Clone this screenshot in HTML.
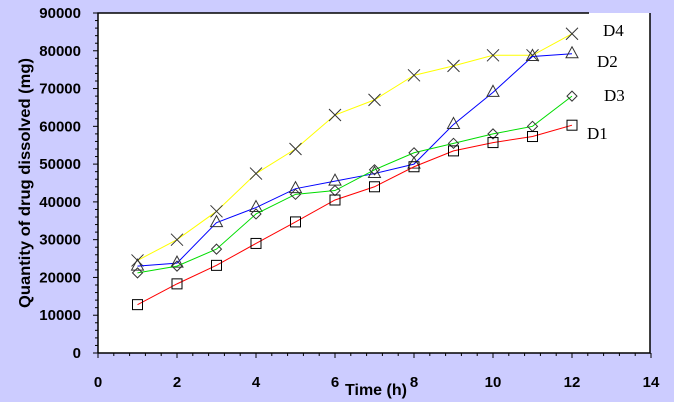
<!DOCTYPE html>
<html><head><meta charset="utf-8"><style>
body{margin:0;background:#ccccff;}
svg{display:block;font-family:"Liberation Sans",Arial,sans-serif;}
</style></head><body>
<svg id="chart" width="674" height="402">
<rect x="0" y="0" width="674" height="402" fill="#ccccff"/>
<rect x="98" y="13" width="552" height="340" fill="#fff"/>
<g id="axes"></g>
<g id="series"></g>
<text x="30" y="183" transform="rotate(-90 30 183)" text-anchor="middle" font-weight="bold" font-size="16" textLength="250" lengthAdjust="spacingAndGlyphs">Quantity of drug dissolved (mg)</text>
<text x="376" y="395" text-anchor="middle" font-weight="bold" font-size="16" textLength="62" lengthAdjust="spacingAndGlyphs">Time (h)</text>
</svg>
<script>
const times=[1,2,3,4,5,6,7,8,9,10,11,12];
const d4=[24500,30000,37500,47500,54000,63000,67000,73500,76000,78800,78800,84500];
const d2=[23000,23800,34500,38500,43500,45500,47500,50000,60500,69000,78500,79200];
const d3=[21200,23000,27500,36800,42000,43000,48500,53000,55500,58000,60000,68000];
const d1=[12800,18300,23200,29000,34700,40500,44000,49300,53500,55700,57300,60300];
const xTicks=[0,2,4,6,8,10,12,14];
const yTicks=[0,10000,20000,30000,40000,50000,60000,70000,80000,90000];
const seriesNames=["D4","D2","D3","D1"];
const X0=98,X1=651,Y0=353,Y1=13;
const sx=v=>X0+(v/14)*(X1-X0);
const sy=v=>Y0-(v/90000)*(Y0-Y1);
const NS="http://www.w3.org/2000/svg";
function mk(tag,attrs,parent,txt){const e=document.createElementNS(NS,tag);for(const k in attrs)e.setAttribute(k,attrs[k]);if(txt!==undefined)e.textContent=txt;parent.appendChild(e);return e;}
const ax=document.getElementById('axes');
let e;
e=mk('path',{d:`M98 353 V13 H589 M650 13 V353 H98`,stroke:'#000','stroke-width':1.5,fill:'none'},ax);


for(let v=0;v<=90000;v+=2000){const y=sy(v);const major=v%10000===0;
e=mk('line',{x1:major?93:95,x2:98,y1:y,y2:y,stroke:'#000'},ax);

}
for(let v=0;v<=14.001;v+=0.4){const x=sx(v);const major=Math.abs(v/2-Math.round(v/2))<0.01;
e=mk('line',{x1:x,x2:x,y1:353,y2:major?358:356,stroke:'#000'},ax);

}
yTicks.forEach(v=>{e=mk('text',{x:81,y:sy(v)+5,'text-anchor':'end','font-weight':'bold','font-size':15},ax,String(v));

});
xTicks.forEach(v=>{e=mk('text',{x:sx(v),y:387,'text-anchor':'middle','font-weight':'bold','font-size':15},ax,String(v));

});
const sg=document.getElementById('series');
const defs=[[d4,'#ffff00','x','D4',603,36],[d2,'#0000ff','tri','D2',597,67],[d3,'#00dd00','dia','D3',604,101],[d1,'#ff0000','sq','D1',587,139]];
defs.forEach(([data,col,mkType,name,lx,ly])=>{
const g=mk('g',{},sg);


const pts=data.map((v,i)=>[sx(times[i]),sy(v)]);
e=mk('polyline',{points:pts.map(p=>p.join(',')).join(' '),fill:'none',stroke:col,'stroke-width':1},g);


pts.forEach(([x,y])=>{let m;
if(mkType==='x')m=mk('path',{d:`M${x-6} ${y-6}L${x+6} ${y+6}M${x-6} ${y+6}L${x+6} ${y-6}`,stroke:'#333',fill:'none'},g);
else if(mkType==='tri')m=mk('path',{d:`M${x} ${y-7}L${x+6} ${y+4}L${x-6} ${y+4}Z`,stroke:'#333',fill:'none'},g);
else if(mkType==='dia')m=mk('path',{d:`M${x} ${y-5}L${x+5} ${y}L${x} ${y+5}L${x-5} ${y}Z`,stroke:'#333',fill:'none'},g);
else m=mk('rect',{x:x-5,y:y-5,width:10,height:10,stroke:'#000',fill:'none'},g);

});
e=mk('text',{x:lx,y:ly,'font-family':'"Liberation Serif",serif','font-size':17},g,name);


});
</script>
</body></html>
